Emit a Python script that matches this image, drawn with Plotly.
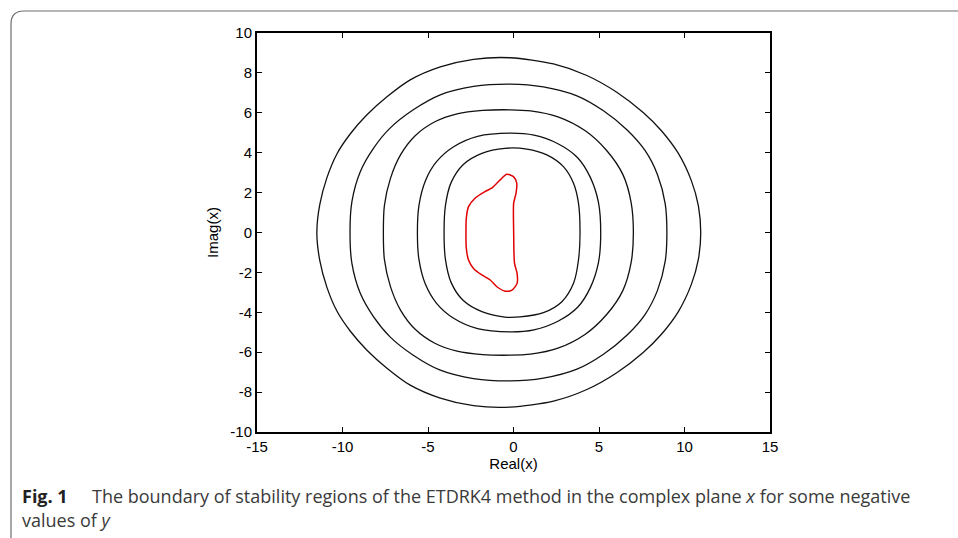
import plotly.graph_objects as go

# ---- data (complex plane: real, imag) ----
c1_x = [-11.50, -11.33, -10.91, -10.32, -9.54, -8.57, -7.40, -6.04, -4.28, -2.34, -0.20,
        2.34, 4.29, 6.04, 7.60, 8.65, 9.65, 10.40, 10.81, 10.95,
        10.81, 10.40, 9.65, 8.65, 7.60, 6.04, 4.29, 2.34, -0.20,
        -2.34, -4.28, -6.04, -7.40, -8.57, -9.54, -10.32, -10.91, -11.33, -11.50]
c1_y = [0.00, 1.40, 2.75, 3.95, 4.95, 5.90, 6.80, 7.65, 8.30, 8.68, 8.76,
        8.45, 7.87, 7.03, 6.00, 5.10, 3.95, 2.60, 1.35, 0.00,
        -1.35, -2.60, -3.95, -5.10, -6.00, -7.03, -7.87, -8.45, -8.75,
        -8.68, -8.30, -7.65, -6.80, -5.90, -4.95, -3.95, -2.75, -1.40, 0.00]

c2_x = [-9.56, -9.45, -8.96, -8.18, -7.22, -5.86, -4.28, -2.34, -0.19,
        1.75, 3.71, 5.26, 6.63, 7.70, 8.42, 8.87, 8.97,
        8.87, 8.42, 7.70, 6.63, 5.26, 3.71, 1.75, -0.19,
        -2.34, -4.28, -5.86, -7.22, -8.18, -8.96, -9.45, -9.56]
c2_y = [0.00, 1.55, 3.05, 4.23, 5.23, 6.15, 6.90, 7.32, 7.44,
        7.30, 6.85, 6.10, 5.15, 4.10, 2.90, 1.45, 0.00,
        -1.45, -2.90, -4.10, -5.15, -6.10, -6.85, -7.30, -7.44,
        -7.32, -6.90, -6.15, -5.23, -4.23, -3.05, -1.55, 0.00]

c3_x = [-7.61, -7.55, -7.20, -6.60, -5.75, -4.60, -3.30, -1.80, -0.19,
        1.00, 2.60, 4.20, 5.46, 6.40, 6.88, 7.01,
        6.88, 6.40, 5.46, 4.20, 2.60, 1.00, -0.19,
        -1.80, -3.30, -4.60, -5.75, -6.60, -7.20, -7.55, -7.61]
c3_y = [0.00, 1.35, 2.70, 3.90, 4.85, 5.55, 5.95, 6.12, 6.15,
        6.10, 5.80, 5.10, 4.10, 2.90, 1.50, 0.00,
        -1.50, -2.90, -4.10, -5.10, -5.80, -6.10, -6.15,
        -6.12, -5.95, -5.55, -4.85, -3.90, -2.70, -1.35, 0.00]

c4_x = [-5.62, -5.53, -5.15, -4.50, -3.50, -2.10, -0.20,
        1.20, 2.60, 3.75, 4.50, 4.97, 5.10,
        4.97, 4.50, 3.75, 2.60, 1.20, -0.20,
        -2.10, -3.50, -4.50, -5.15, -5.53, -5.62]
c4_y = [0.00, 1.35, 2.60, 3.55, 4.30, 4.82, 4.98,
        4.88, 4.45, 3.75, 2.75, 1.50, 0.00,
        -1.50, -2.75, -3.75, -4.45, -4.88, -4.98,
        -4.82, -4.30, -3.55, -2.60, -1.35, 0.00]

c5_x = [-4.06, -3.98, -3.65, -2.95, -1.85, -0.50, 0.78,
        1.95, 2.92, 3.51, 3.80, 3.89,
        3.80, 3.51, 2.83, 1.75, 0.39, -0.50,
        -1.85, -2.95, -3.65, -3.98, -4.06]
c5_y = [0.00, 1.35, 2.50, 3.40, 3.97, 4.22, 4.18,
        3.89, 3.30, 2.47, 1.47, 0.00,
        -1.38, -2.55, -3.47, -4.02, -4.23, -4.24,
        -3.97, -3.40, -2.50, -1.35, 0.00]

red_x = [-0.39, 0.00, 0.19, 0.15, 0.01, 0.01, 0.06, 0.21, 0.21, -0.09, -0.49,
         -0.97, -1.36, -1.85, -2.34, -2.63, -2.76, -2.78, -2.76, -2.63, -2.25,
         -1.67, -1.28, -0.78, -0.39]
red_y = [2.92, 2.80, 2.47, 1.97, 1.47, 0.04, -1.55, -2.05, -2.55, -2.89, -2.94,
         -2.72, -2.38, -2.13, -1.80, -1.38, -0.79, 0.04, 0.71, 1.30, 1.72,
         2.05, 2.22, 2.64, 2.92]

x_ticks = [-15, -10, -5, 0, 5, 10, 15]
y_ticks = [-10, -8, -6, -4, -2, 0, 2, 4, 6, 8, 10]

black_curves = [(c1_x, c1_y), (c2_x, c2_y), (c3_x, c3_y), (c4_x, c4_y), (c5_x, c5_y)]

fig = go.Figure()
for cx, cy in black_curves:
    fig.add_trace(go.Scatter(x=cx, y=cy, mode="lines",
                             line=dict(color="#111111", width=1.3, shape="spline", smoothing=0.8),
                             hoverinfo="skip", showlegend=False))
fig.add_trace(go.Scatter(x=red_x, y=red_y, mode="lines",
                         line=dict(color="#e00000", width=1.5, shape="spline", smoothing=0.7),
                         hoverinfo="skip", showlegend=False))

W, H = 958, 538
L, R, T, B = 257, 188, 33, 106
pw, ph = W - L - R, H - T - B


def px(x):
    return (x - L) / pw


def py(y):
    return (H - B - y) / ph


tickfont = dict(family="Liberation Sans, Arial, sans-serif", size=15, color="#000000")
axis_common = dict(showgrid=False, zeroline=False, showline=True, linecolor="#000000",
                   linewidth=2, mirror="ticks", ticks="inside", ticklen=5, tickwidth=1,
                   tickcolor="#000000", tickfont=tickfont)

fig.update_layout(
    width=W, height=H,
    margin=dict(l=L, r=R, t=T, b=B, pad=0),
    plot_bgcolor="white", paper_bgcolor="white",
    xaxis=dict(range=[-15, 15], tickvals=x_ticks, ticktext=[str(v) for v in x_ticks],
               title=dict(text="Real(x)", font=tickfont, standoff=4), **axis_common),
    yaxis=dict(range=[-10, 10], tickvals=y_ticks, ticktext=[str(v) for v in y_ticks],
               title=dict(text="Imag(x)", font=tickfont, standoff=8), **axis_common),
)

# figure frame (rounded top-left corner)
r = 13
path = (f"M {px(11)} {py(545)} L {px(11)} {py(11 + r)} "
        f"Q {px(11)} {py(11)} {px(11 + r)} {py(11)} L {px(965)} {py(11)}")
fig.add_shape(type="path", path=path, xref="paper", yref="paper",
              line=dict(color="#6e6e6e", width=1.2), layer="below")

capfont = dict(family="Open Sans, Noto Sans, sans-serif", size=18, color="#3a3a3a")
fig.add_annotation(x=px(20), y=py(496), xref="paper", yref="paper", xanchor="left",
                   yanchor="middle", showarrow=False, text="<b>Fig. 1</b>",
                   font=dict(family="Open Sans, Noto Sans, sans-serif", size=18, color="#222222"))
fig.add_annotation(x=px(90), y=py(496), xref="paper", yref="paper", xanchor="left",
                   yanchor="middle", showarrow=False,
                   text="The boundary of stability regions of the ETDRK4 method in the complex plane <i>x</i> for some negative",
                   font=capfont)
fig.add_annotation(x=px(20), y=py(520), xref="paper", yref="paper", xanchor="left",
                   yanchor="middle", showarrow=False, text="values of <i>y</i>", font=capfont)

fig.write_html("out.html", config={"displayModeBar": False},
               post_script="document.body.style.margin='0';document.body.style.overflow='hidden';")
